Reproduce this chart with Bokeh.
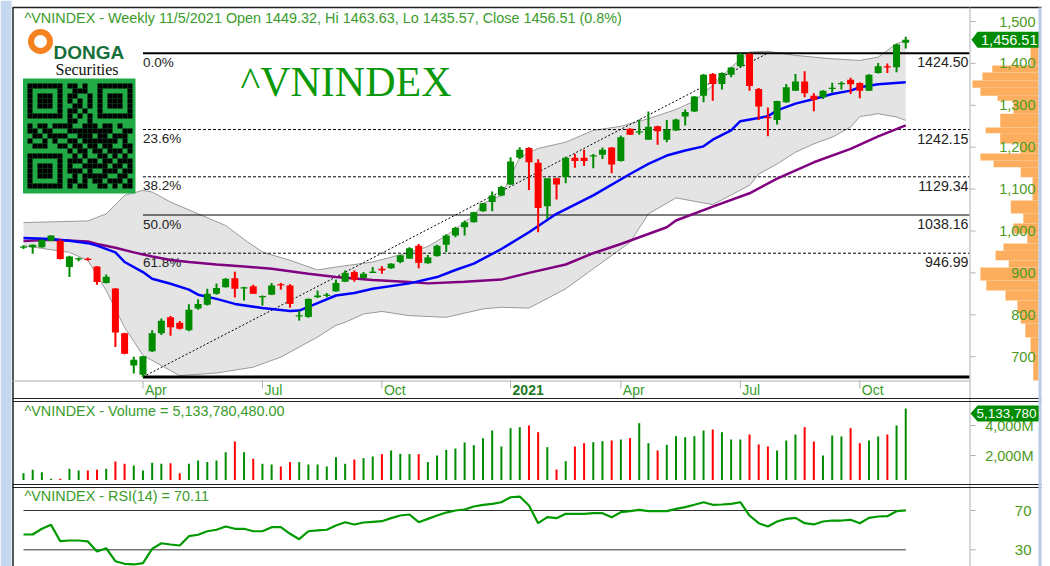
import numpy as np
from bokeh.plotting import figure
from bokeh.models import Range1d
from bokeh.embed import file_html
from bokeh.resources import INLINE
from bokeh.core.properties import value

# ---------------- data (weekly, Jan 3 2020 .. Nov 5 2021) ----------------
opens = [960, 961, 961, 977, 977, 914, 932, 934, 915, 876,
         863, 756, 679, 657, 713, 756, 794, 781, 763, 815,
         824, 850, 866, 887, 864, 868, 843, 848, 873, 870,
         796, 795, 842, 845, 856, 879, 902, 888, 901, 910,
         911, 926, 934, 965, 923, 940, 967, 989, 1009, 1021,
         1047, 1069, 1085, 1111, 1175, 1198, 1163, 1059, 1126, 1129,
         1175, 1175, 1178, 1182, 1199, 1167, 1244, 1236, 1218, 1250,
         1218, 1240, 1273, 1285, 1323, 1375, 1351, 1373, 1393, 1423,
         1339, 1272, 1265, 1307, 1335, 1357, 1323, 1319, 1340, 1350,
         1361, 1353, 1335, 1377, 1393, 1391, 1449.32]
highs = [966, 968, 980, 990, 981, 941, 937, 937, 916, 896,
         864, 757, 700, 701, 763, 791, 797, 785, 825, 837,
         862, 875, 888, 903, 867, 872, 846, 876, 876, 873,
         810, 839, 858, 852, 884, 906, 906, 902, 914, 916,
         923, 943, 961, 969, 943, 967, 992, 1010, 1025, 1046,
         1067, 1094, 1108, 1176, 1200, 1200, 1171, 1126, 1127, 1177,
         1184, 1194, 1184, 1199, 1200, 1228, 1245, 1266, 1285, 1251,
         1265, 1268, 1290, 1322, 1375, 1377, 1378, 1391, 1424.5, 1424,
         1341, 1295, 1311, 1351, 1375, 1381, 1329, 1336, 1354, 1357,
         1366, 1355, 1374, 1401, 1400, 1447, 1463.63]
lows = [957, 946, 960, 976, 932, 890, 928, 929, 872, 875,
        723, 706, 660, 651.82, 711, 752, 750, 765, 761, 812,
        822, 848, 865, 841, 834, 850, 822, 847, 860, 817,
        786, 793, 840, 842, 855, 878, 879, 887, 900, 898,
        910, 923, 934, 911, 922, 939, 950, 985, 989, 1020,
        1046, 1047, 1083, 1110, 1172, 1098, 997, 1029, 1075, 1114,
        1151, 1155, 1150, 1172, 1138, 1166, 1229, 1230, 1218, 1206,
        1212, 1239, 1252, 1284, 1307, 1311, 1338, 1367, 1391, 1335,
        1265, 1226, 1254, 1306, 1334, 1319, 1286, 1315, 1330, 1338,
        1327, 1317, 1334, 1376, 1377, 1379, 1435.57]
closes = [963, 967, 979, 989, 933, 939, 935, 931, 878, 891,
          758, 707, 693, 701, 756, 786, 770, 767, 812, 826,
          850, 864, 886, 862, 866, 850, 845, 870, 870, 826,
          799, 838, 846, 848, 876, 900, 884, 898, 903, 906,
          922, 942, 959, 924, 937, 965, 989, 1007, 1021, 1045,
          1066, 1085, 1105, 1166, 1194, 1164, 1055, 1126, 1111, 1175,
          1167, 1167, 1181, 1194, 1159, 1224, 1230, 1238, 1249, 1238,
          1242, 1266, 1284, 1321, 1373, 1351, 1377, 1390, 1422, 1346,
          1297, 1270, 1310, 1343, 1357, 1329, 1313, 1335, 1342, 1353,
          1350, 1335, 1373, 1393, 1390, 1445, 1456.51]
volume_m = [820, 1047, 887, 447, 447, 1113, 1000, 1000, 1047, 1113,
            1600, 1447, 1333, 1000, 1513, 1447, 1480, 820, 1447, 1667,
            1560, 1667, 2222, 2933, 2222, 1780, 1447, 1400, 1267, 1560,
            1560, 1400, 1400, 1267, 1889, 1447, 1733, 1822, 1933, 2089,
            2333, 2111, 2089, 2089, 1560, 2000, 2378, 2467, 2867, 2689,
            3156, 3667, 2600, 3822, 3889, 4000, 3556, 2556, 1067, 1622,
            2600, 2822, 2889, 2956, 3000, 3067, 3156, 4156, 2822, 2333,
            2711, 3289, 3222, 3289, 3667, 3733, 3556, 3067, 3067, 3400,
            2733, 2600, 2333, 3000, 3400, 3889, 2933, 2000, 3333, 3267,
            3822, 2822, 3000, 3267, 3400, 4000, 5133.78]
rsi14 = [45.6, 45.6, 51.4, 55.4, 38.8, 39.5, 39.5, 38.5, 28.3, 31.6,
         18.4, 15.8, 15.1, 16.4, 31.0, 36.7, 35.4, 34.4, 43.9, 45.3,
         48.9, 50.4, 53.7, 51.4, 51.4, 48.9, 48.9, 53.0, 53.0, 46.3,
         40.8, 48.9, 49.7, 50.4, 54.7, 58.1, 55.8, 57.8, 58.5, 59.1,
         62.2, 64.9, 65.9, 58.1, 61.5, 64.9, 67.9, 70.0, 71.0, 74.1,
         75.8, 76.8, 78.4, 83.5, 84.2, 75.1, 57.1, 63.2, 62.2, 66.6,
         66.6, 66.6, 67.3, 67.3, 63.2, 68.3, 69.3, 70.7, 69.3, 69.3,
         69.3, 71.7, 73.4, 75.8, 78.4, 75.8, 76.1, 76.8, 78.4, 64.9,
         57.1, 53.7, 58.8, 61.5, 62.5, 57.1, 55.8, 58.8, 59.8, 59.8,
         60.5, 57.1, 62.5, 63.9, 64.2, 69.3, 70.11]

# indicator lines: (bar index, value)
ma20_bar = [0, 3, 5, 7, 8, 10, 11, 13, 14, 16, 18, 19, 21, 23, 26, 29, 30, 32, 34, 36,
            38, 42, 45, 47, 49, 52, 55, 58, 62, 66, 68, 70, 72, 74, 75, 77, 78, 81, 82, 84,
            86, 88, 90, 91, 93, 96]
ma20 = [983, 981, 977, 971, 965, 949, 926, 902, 886, 874, 860, 848, 838, 826, 816, 809, 810, 828, 846, 852,
        862, 875, 890, 907, 922, 957, 997, 1041, 1085, 1136, 1160, 1180, 1192, 1202, 1218, 1240, 1262, 1274, 1288, 1304,
        1315, 1327, 1335, 1343, 1350, 1355]
ma50_bar = [0, 3, 7, 8, 10, 12, 14, 16, 18, 21, 24, 27, 31, 34, 38, 42, 44, 48, 52, 55,
            59, 62, 65, 70, 71, 75, 79, 82, 86, 90, 93, 96]
ma50 = [976, 979, 975, 969, 960, 949, 939, 931, 926, 920, 915, 910, 898, 890, 883, 878, 875, 879, 884, 900,
        920, 947, 969, 1009, 1025, 1058, 1090, 1125, 1164, 1196, 1226, 1252]
bb_up_bar = [0, 7, 9, 11, 13, 14, 16, 19, 22, 24, 26, 27, 29, 32, 34, 38, 42, 44, 46, 49,
             50, 52, 54, 56, 59, 62, 65, 68, 71, 73, 74, 75, 77, 79, 81, 84, 88, 91, 93, 95, 96]
bb_up = [1020, 1024, 1041, 1085, 1097, 1093, 1069, 1041, 1013, 980, 950, 943, 930, 907, 914, 926, 949, 963, 989, 1037,
         1066, 1085, 1176, 1197, 1212, 1240, 1250, 1268, 1290, 1310, 1330, 1347, 1391, 1427, 1429, 1419, 1411, 1407, 1415, 1447, 1455]
bb_lo_bar = [0, 5, 7, 9, 11, 13, 16, 17, 21, 25, 28, 32, 34, 35, 37, 39, 42, 46, 50, 52,
             55, 59, 62, 66, 68, 71, 75, 79, 80, 82, 84, 86, 88, 90, 91, 93, 95, 96]
bb_lo = [965, 949, 930, 858, 770, 703, 667, 655, 661, 675, 699, 747, 775, 782, 802, 808, 798, 794, 814, 818,
         816, 862, 910, 973, 1041, 1079, 1063, 1109, 1136, 1160, 1188, 1208, 1224, 1248, 1273, 1280, 1272, 1264]

# Fibonacci retracement (low -> high)
fib_bar0, fib_bar1 = 13, 81
fib_low, fib_high = 651.82, 1424.50
fib_pct_labels = ["0.0%", "23.6%", "38.2%", "50.0%", "61.8%"]
fib_levels = [1424.50, 1242.15, 1129.34, 1038.16, 946.99]

month_bars = [13, 26, 39, 53, 65, 78, 91]
month_labels = ["Apr", "Jul", "Oct", "2021", "Apr", "Jul", "Oct"]
price_ticks = [700, 800, 900, 1000, 1100, 1200, 1300, 1400, 1500]
vol_ticks = [2000, 4000]
rsi_ticks = [30, 70]

# volume-at-price profile (price bin bounds, relative volume 0..100)
prof_lo = [1395, 1378, 1359, 1342, 1323, 1311, 1280, 1247, 1233, 1209, 1185, 1168, 1152, 1128, 1073,
           1042, 1018, 994, 970, 953, 930, 913, 882, 858, 834, 803, 779, 746, 708, 643]
prof_hi = [1440, 1395, 1378, 1359, 1342, 1323, 1311, 1280, 1247, 1233, 1209, 1185, 1168, 1152, 1128,
           1073, 1042, 1018, 994, 970, 953, 930, 913, 882, 858, 834, 803, 779, 746, 708]
prof_vol = [12, 70, 85, 100, 88, 62, 38, 58, 80, 58, 27, 88, 68, 27, 9,
            42, 23, 38, 17, 53, 65, 45, 88, 79, 50, 32, 27, 20, 12, 8]

qr_rows = [
    "111111101101001111111",
    "100000100111001000001",
    "101110101100101011101",
    "101110101010101011101",
    "101110100110101011101",
    "100000101101001000001",
    "111111101010101111111",
    "000000001100100000000",
    "101101111001110110100",
    "110110001111111110011",
    "011011110011101101110",
    "100101001101111111010",
    "011100110110110110011",
    "000000001011011011101",
    "111111100101001101010",
    "100000101110110110111",
    "101110101001111101101",
    "101110101110100111011",
    "101110100101111100110",
    "100000101101011011101",
    "111111101011001101011",
]

# ---------------- layout helpers (pixel -> data) ----------------
W, H = 1050, 566
PXB = 9.19            # pixels per weekly bar
X0PX = 23.0           # pixel of bar 0
PPX = 1 / 0.419       # price points per pixel
P_AT_0 = 1500 + 21 * PPX


def bx(px):
    return (px - X0PX) / PXB


def py(px):
    return P_AT_0 - px * PPX


def vol_at(px):
    return (485 - px) / 0.015


def rsi_at(px):
    return 70 - (px - 510) / 0.983


def prof_at(px):
    return (1038 - px) / 0.66


p = figure(width=W, height=H, x_range=Range1d(bx(0), bx(W)), y_range=Range1d(py(H), py(0)),
           output_backend="svg", toolbar_location=None, min_border=0,
           x_axis_type=None, y_axis_type=None)
p.grid.visible = False
p.outline_line_color = None
p.background_fill_color = "white"
p.border_fill_color = "white"
p.extra_y_ranges = {"vol": Range1d(vol_at(H), vol_at(0)), "rsi": Range1d(rsi_at(H), rsi_at(0))}
p.extra_x_ranges = {"prof": Range1d(prof_at(0), prof_at(W))}

FONT = value("Liberation Sans")
GREEN_TXT = "#3a9c2a"
AX_TXT = "#4d9a1c"

# ---------------- volume profile ----------------
p.quad(left=prof_vol, right=[0] * len(prof_vol), bottom=prof_lo, top=prof_hi,
       x_range_name="prof", fill_color="#fdad5e", line_color=None)

# ---------------- Bollinger band ----------------
band_x = list(bb_up_bar) + list(bb_lo_bar[::-1])
band_y = list(bb_up) + list(bb_lo[::-1])
p.patch(band_x, band_y, fill_color="#e4e4e4", line_color=None)
p.line(bb_up_bar, bb_up, line_color="#9a9a9a", line_width=1)
p.line(bb_lo_bar, bb_lo, line_color="#9a9a9a", line_width=1)

# ---------------- Fibonacci ----------------
fib_right = bx(969)
styles = [(2, None), (1, "3 2"), (1, "3 2"), (1, None), (1, "3 2")]
for lvl, (lw, dash) in zip(fib_levels, styles):
    kw = {"line_dash": dash} if dash else {}
    p.segment(x0=[fib_bar0], y0=[lvl], x1=[fib_right], y1=[lvl], line_color="black", line_width=lw, **kw)
p.segment(x0=[fib_bar0], y0=[fib_low], x1=[fib_right], y1=[fib_low], line_color="black", line_width=3)
p.segment(x0=[fib_bar0], y0=[fib_low], x1=[fib_bar1], y1=[fib_high], line_color="black", line_width=1,
          line_dash="2 2")
p.text(x=[fib_bar0] * len(fib_levels), y=[l - 9 * PPX for l in fib_levels], text=fib_pct_labels,
       text_font=FONT, text_font_size="13.5px", text_color="#222222", text_align="left", text_baseline="middle")
p.text(x=[bx(968)] * len(fib_levels), y=[l - 9 * PPX for l in fib_levels], text=["%.2f" % v for v in fib_levels],
       text_font=FONT, text_font_size="14.2px", text_color="#222222", text_align="right", text_baseline="middle")

# ---------------- moving averages ----------------
p.line(ma50_bar, ma50, line_color="#800080", line_width=2.5)
p.line(ma20_bar, ma20, line_color="#0000ff", line_width=2.5)

# ---------------- candles ----------------
bars = np.arange(len(closes))
o = np.array(opens, float); c = np.array(closes, float)
colors = ["#008c00" if cc >= oo else "#ff0000" for oo, cc in zip(o, c)]
top = np.maximum(o, c); bot = np.minimum(o, c)
bot = np.where(top - bot < 2.5, bot - 1.2, bot); top = np.where(top - bot < 2.5, top + 1.2, top)
p.segment(x0=bars, y0=lows, x1=bars, y1=highs, line_color=colors, line_width=2)
p.vbar(x=bars, width=7 / PXB, top=top, bottom=bot, fill_color=colors, line_color=None)

# ---------------- volume panel ----------------
VOL_FLOOR = vol_at(479.5)
p.segment(x0=bars, y0=[VOL_FLOOR] * len(bars), x1=bars, y1=volume_m, y_range_name="vol",
          line_color=colors, line_width=2)

# ---------------- RSI panel ----------------
for lv in rsi_ticks:
    p.segment(x0=[0], y0=[lv], x1=[len(bars) - 1], y1=[lv], y_range_name="rsi", line_color="#333333", line_width=1)
p.line(bars, rsi14, y_range_name="rsi", line_color="#009a00", line_width=2.2)

# ---------------- frame lines ----------------
def hline(y_px, x0_px, x1_px, color, lw):
    p.segment(x0=[bx(x0_px)], y0=[py(y_px)], x1=[bx(x1_px)], y1=[py(y_px)], line_color=color, line_width=lw)


def vline(x_px, y0_px, y1_px, color, lw):
    p.segment(x0=[bx(x_px)], y0=[py(y0_px)], x1=[bx(x_px)], y1=[py(y1_px)], line_color=color, line_width=lw)


p.quad(left=[bx(0)], right=[bx(11)], bottom=[py(H)], top=[py(0)], fill_color="#c4d8ef", line_color=None)
vline(12.5, 7, H, "#222222", 1.5)
hline(7, 12, 1041, "#222222", 1.5)
hline(380.5, 12, 969, "#b0b0b0", 1)
vline(969.5, 7, H, "#b0b0b0", 1)
hline(398, 12, 1041, "#222222", 1.2)
hline(401, 12, 1041, "#222222", 1.2)
hline(484, 12, 1041, "#222222", 1.2)
hline(487, 12, 1041, "#222222", 1.2)

# x axis ticks and labels
p.segment(x0=month_bars, y0=[py(380)] * 7, x1=month_bars, y1=[py(388)] * 7, line_color="#b0b0b0", line_width=1)
for b, lab in zip(month_bars, month_labels):
    bold = lab.isdigit()
    p.text(x=[b + 2 / PXB], y=[py(389)], text=[lab], text_font=FONT, text_font_size="14px",
           text_font_style="bold" if bold else "normal", text_color="#1f7a1f" if bold else GREEN_TXT,
           text_align="left", text_baseline="middle")

# price axis
p.segment(x0=[bx(970)] * len(price_ticks), y0=price_ticks, x1=[bx(975)] * len(price_ticks), y1=price_ticks,
          line_color="#b0b0b0", line_width=1)
p.text(x=[bx(1035)] * len(price_ticks), y=price_ticks, text=["{:,}".format(t) for t in price_ticks],
       text_font=FONT, text_font_size="14.5px", text_color=AX_TXT, text_align="right", text_baseline="middle")

# volume axis
p.segment(x0=[bx(970)] * 2, y0=vol_ticks, x1=[bx(975)] * 2, y1=vol_ticks, y_range_name="vol",
          line_color="#b0b0b0", line_width=1)
p.text(x=[bx(1033)] * 2, y=vol_ticks, text=["{:,}M".format(t) for t in vol_ticks], y_range_name="vol",
       text_font=FONT, text_font_size="14.5px", text_color=AX_TXT, text_align="right", text_baseline="middle")

# rsi axis
p.segment(x0=[bx(970)] * 2, y0=rsi_ticks, x1=[bx(975)] * 2, y1=rsi_ticks, y_range_name="rsi",
          line_color="#b0b0b0", line_width=1)
p.text(x=[bx(1031)] * 2, y=rsi_ticks, text=[str(t) for t in rsi_ticks], y_range_name="rsi",
       text_font=FONT, text_font_size="15px", text_color=AX_TXT, text_align="right", text_baseline="middle")

# last price tag
lc = closes[-1]
hh = 8 * PPX
p.patch([bx(971), bx(977), bx(1039), bx(1039), bx(977)], [lc, lc + hh, lc + hh, lc - hh, lc - hh],
        fill_color="#008c00", line_color=None)
p.text(x=[bx(1037)], y=[lc], text=["{:,.2f}".format(lc)], text_font=FONT, text_font_size="14.5px",
       text_color="white", text_align="right", text_baseline="middle")

# last volume tag (the reference shows the value truncated at the panel edge)
lv_px = 485 - volume_m[-1] * 0.015 + 5
p.patch([bx(970), bx(977), bx(1039), bx(1039), bx(977)],
        [py(lv_px), py(lv_px - 8), py(lv_px - 8), py(lv_px + 8), py(lv_px + 8)],
        fill_color="#008c00", line_color=None)
vol_tag = "{:,.0f}".format(volume_m[-1] * 1e6)[:9]
p.text(x=[bx(976)], y=[py(lv_px)], text=[vol_tag], text_font=FONT,
       text_font_size="13.5px", text_color="white", text_align="left", text_baseline="middle")
vline(1039.5, 7, H, "#b9cde6", 3)

# headers
HDR = "14.4px"
p.text(x=[bx(24)], y=[py(17)],
       text=["^VNINDEX - Weekly 11/5/2021 Open 1449.32, Hi 1463.63, Lo 1435.57, Close 1456.51 (0.8%)"],
       text_font=FONT, text_font_size=HDR, text_color=GREEN_TXT, text_align="left", text_baseline="middle")
p.text(x=[bx(24)], y=[py(410)], text=["^VNINDEX - Volume = 5,133,780,480.00"],
       text_font=FONT, text_font_size=HDR, text_color=GREEN_TXT, text_align="left", text_baseline="middle")
p.text(x=[bx(24)], y=[py(495)], text=["^VNINDEX - RSI(14) = 70.11"],
       text_font=FONT, text_font_size=HDR, text_color=GREEN_TXT, text_align="left", text_baseline="middle")
p.text(x=[bx(240)], y=[py(81)], text=["^VNINDEX"], text_font=value("Liberation Serif"),
       text_font_size="42px", text_color="#0a990a", text_align="left", text_baseline="middle")

# logo
p.scatter(x=[bx(40)], y=[py(41)], size=25, marker="circle", fill_color="#f58220", line_color=None)
p.scatter(x=[bx(40)], y=[py(41)], size=13, marker="circle", fill_color="white", line_color=None)
p.text(x=[bx(53)], y=[py(52)], text=["DONGA"], text_font=FONT, text_font_size="19px",
       text_font_style="bold", text_color="#17703a", text_align="left", text_baseline="middle")
p.text(x=[bx(55)], y=[py(69)], text=["Securities"], text_font=value("Liberation Serif"), text_font_size="16px",
       text_color="#111111", text_align="left", text_baseline="middle")

# QR block
p.quad(left=[bx(22.5)], right=[bx(135)], bottom=[py(193)], top=[py(78)], fill_color="#22aa47", line_color=None)
ql, qr_, qb, qt = [], [], [], []
for r, row in enumerate(qr_rows):
    for k, ch in enumerate(row):
        if ch == "1":
            ql.append(bx(27 + 5 * k)); qr_.append(bx(32 + 5 * k))
            qt.append(py(83 + 5 * r)); qb.append(py(88 + 5 * r))
p.quad(left=ql, right=qr_, bottom=qb, top=qt, fill_color="black", line_color=None)

open("out.html", "w").write(file_html(p, INLINE))
